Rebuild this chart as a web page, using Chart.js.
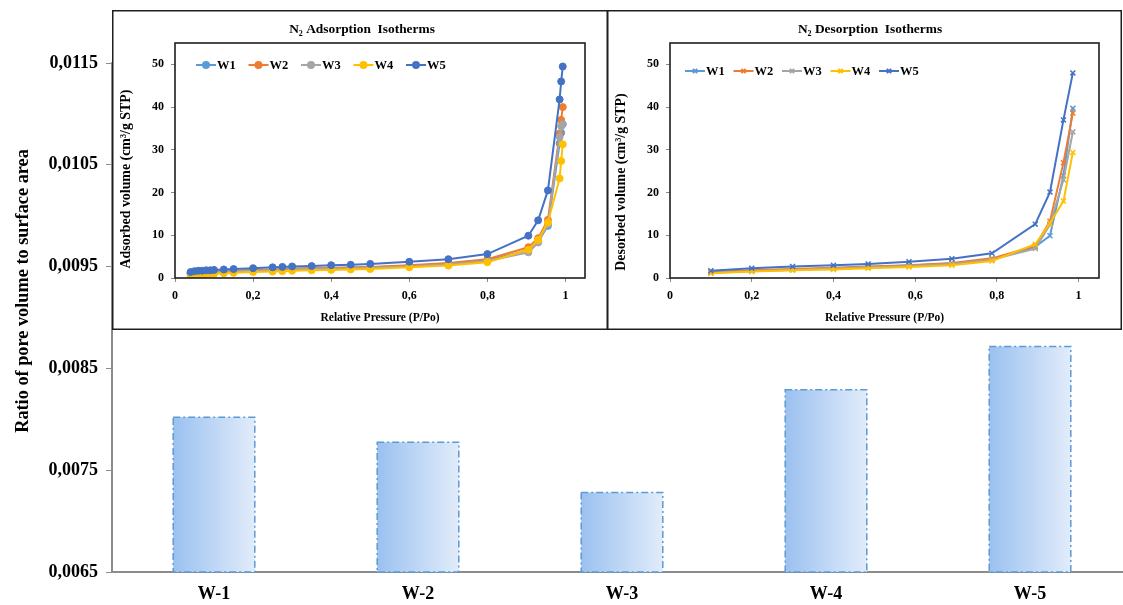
<!DOCTYPE html>
<html>
<head>
<meta charset="utf-8">
<script src="https://cdn.jsdelivr.net/npm/chart.js@4.4.0/dist/chart.umd.min.js"></script>
<style>
  body { margin: 0; width: 1123px; height: 605px; overflow: hidden; background: #fff; position: relative; }
  canvas { position: absolute; }
</style>
</head>
<body>
<canvas id="main" width="1134" height="605" style="left:0;top:0"></canvas>
<canvas id="ads" width="496" height="320" style="left:112px;top:10px"></canvas>
<canvas id="des" width="515" height="320" style="left:607px;top:10px"></canvas>
<script>
// main bar chart
var samples = ['W-1', 'W-2', 'W-3', 'W-4', 'W-5'];
var poreRatio = [0.00802, 0.007775, 0.00728, 0.00829, 0.008715];

// N2 adsorption isotherms
var adsPressure = [0.04, 0.05, 0.06, 0.07, 0.08, 0.09, 0.1, 0.125, 0.15, 0.2, 0.25, 0.275, 0.3, 0.35, 0.4, 0.45, 0.5, 0.6, 0.7, 0.8, 0.905, 0.93, 0.955, 0.985, 0.989, 0.993];
var adsW1 = [1.1, 1.2, 1.2, 1.3, 1.3, 1.4, 1.4, 1.5, 1.6, 1.8, 1.9, 2.0, 2.1, 2.2, 2.3, 2.4, 2.5, 2.8, 3.3, 4.1, 6.5, 8.6, 12.2, 31.5, 34, 36];
var adsW2 = [1.2, 1.3, 1.3, 1.4, 1.4, 1.5, 1.5, 1.6, 1.7, 1.9, 2.0, 2.1, 2.2, 2.3, 2.4, 2.5, 2.6, 3.0, 3.5, 4.4, 7.2, 9.3, 13.6, 33.8, 37, 40];
var adsW3 = [1.0, 1.1, 1.1, 1.2, 1.2, 1.3, 1.3, 1.4, 1.5, 1.7, 1.8, 1.9, 2.0, 2.1, 2.2, 2.3, 2.4, 2.7, 3.2, 4.0, 6.0, 8.3, 12.6, 33, 35.5, 36];
var adsW4 = [0.5, 0.6, 0.7, 0.8, 0.9, 1.0, 1.0, 1.1, 1.2, 1.4, 1.5, 1.6, 1.7, 1.8, 1.9, 2.0, 2.1, 2.5, 2.9, 3.7, 6.6, 8.9, 13.0, 23.3, 27.4, 31.3];
var adsW5 = [1.4, 1.6, 1.7, 1.7, 1.8, 1.8, 1.9, 2.0, 2.1, 2.3, 2.5, 2.6, 2.7, 2.8, 3.0, 3.1, 3.3, 3.8, 4.4, 5.6, 9.9, 13.5, 20.5, 41.8, 46, 49.5];

// N2 desorption isotherms
var desPressure = [0.1, 0.2, 0.3, 0.4, 0.485, 0.585, 0.69, 0.788, 0.894, 0.93, 0.963, 0.986];
var desW1 = [1.3, 1.7, 2.0, 2.3, 2.6, 2.9, 3.4, 4.4, 7.3, 9.9, 24, 39.7];
var desW2 = [1.4, 1.8, 2.1, 2.4, 2.7, 3.0, 3.5, 4.6, 7.5, 13.3, 27, 38.6];
var desW3 = [1.2, 1.6, 1.9, 2.2, 2.5, 2.8, 3.3, 4.3, 6.9, 12.5, 23, 34.2];
var desW4 = [1.1, 1.5, 1.8, 2.0, 2.3, 2.6, 3.0, 4.0, 7.9, 12.8, 18, 29.4];
var desW5 = [1.7, 2.3, 2.7, 3.0, 3.3, 3.8, 4.5, 5.8, 12.6, 20.1, 37, 48];

var seriesNames = ['W1', 'W2', 'W3', 'W4', 'W5'];
var seriesColors = ['#5b9bd5', '#ed7d31', '#a5a5a5', '#ffc000', '#4472c4'];

var serif = '"Liberation Serif", "Times New Roman", serif';
Chart.defaults.font.family = serif;
Chart.defaults.color = '#000';

function comma(v, d) {
  return String(+v.toFixed(d)).replace('.', ',');
}

// rotated y title, placed by hand (the original is not centred on its axis)
function yTitle(text, x, y, size) {
  return {
    id: 'yTitle',
    afterDraw: function (chart) {
      var ctx = chart.ctx;
      ctx.save();
      ctx.translate(x, y);
      ctx.rotate(-Math.PI / 2);
      ctx.fillStyle = '#000';
      ctx.font = 'bold ' + size + 'px ' + serif;
      ctx.textAlign = 'center';
      ctx.textBaseline = 'middle';
      ctx.fillText(text, 0, 0);
      ctx.restore();
    }
  };
}

// ---- main bar chart ----
var dashBorder = {
  id: 'dashBorder',
  afterDatasetsDraw: function (chart) {
    var ctx = chart.ctx, bottom = chart.chartArea.bottom;
    chart.getDatasetMeta(0).data.forEach(function (b) {
      ctx.save();
      ctx.strokeStyle = '#5b9bd5';
      ctx.lineWidth = 1.5;
      ctx.setLineDash([7, 3, 2, 3]);
      ctx.strokeRect(b.x - b.width / 2, b.y, b.width, Math.min(b.base, bottom) - b.y);
      ctx.restore();
    });
  }
};

var mainChart = new Chart(document.getElementById('main'), {
  type: 'bar',
  data: {
    labels: samples,
    datasets: [{
      data: poreRatio,
      borderWidth: 0,
      barPercentage: 0.4,
      categoryPercentage: 1,
      backgroundColor: function (c) {
        var el = c.chart.getDatasetMeta(0).data[c.dataIndex];
        if (!el || el.width === undefined || isNaN(el.x)) return '#b9d3f3';
        var g = c.chart.ctx.createLinearGradient(el.x - el.width / 2, 0, el.x + el.width / 2, 0);
        g.addColorStop(0, '#9bc1f0');
        g.addColorStop(1, '#e1ecfa');
        return g;
      }
    }]
  },
  options: {
    responsive: false,
    animation: false,
    layout: { padding: { top: 63, right: 2, bottom: 0, left: 0 } },
    plugins: { legend: { display: false }, tooltip: { enabled: false } },
    scales: {
      x: {
        afterFit: function (s) { s.height = 33; },
        grid: { display: false },
        border: { color: '#8c8c8c', width: 2 },
        ticks: { font: { size: 18, weight: 'bold' }, padding: 4 }
      },
      y: {
        min: 0.0065,
        max: 0.0115,
        afterFit: function (s) { s.width = 112; },
        grid: { drawOnChartArea: false, tickLength: 6, color: '#8c8c8c' },
        border: { color: '#8c8c8c', width: 2 },
        ticks: {
          stepSize: 0.001,
          padding: 8,
          font: { size: 18, weight: 'bold' },
          callback: function (v) { return v.toFixed(4).replace('.', ','); }
        }
      }
    }
  },
  plugins: [dashBorder, yTitle('Ratio of pore volume to surface area', 23, 291, 18.3)]
});
mainChart.update('none');

// ---- inset isotherm charts ----
function insetFrame(title, titleX, legendX, legendY, legendStep) {
  return {
    id: 'insetFrame',
    afterDraw: function (chart) {
      var ctx = chart.ctx, a = chart.chartArea;
      ctx.save();
      ctx.strokeStyle = '#1e1e1e';
      ctx.lineWidth = 1.6;
      ctx.strokeRect(a.left, a.top, a.right - a.left, a.bottom - a.top);
      ctx.lineWidth = 1.5;
      ctx.strokeRect(0.75, 0.75, chart.width - 1.5, chart.height - 1.5);
      // title
      ctx.fillStyle = '#000';
      ctx.font = 'bold 13.4px ' + serif;
      ctx.textAlign = 'center';
      ctx.textBaseline = 'middle';
      ctx.fillText(title, titleX, 20);
      // legend
      ctx.textAlign = 'left';
      ctx.font = 'bold 12.5px ' + serif;
      chart.data.datasets.forEach(function (ds, i) {
        var x = legendX + i * legendStep;
        ctx.strokeStyle = ds.borderColor;
        ctx.fillStyle = ds.borderColor;
        ctx.lineWidth = 2;
        ctx.beginPath();
        ctx.moveTo(x, legendY);
        ctx.lineTo(x + 20, legendY);
        ctx.stroke();
        Chart.helpers.drawPoint(ctx, { pointStyle: ds.pointStyle, radius: 3, borderWidth: ds.pointBorderWidth }, x + 10, legendY);
        ctx.fillStyle = '#000';
        ctx.fillText(ds.label, x + 21, legendY + 1);
      });
      ctx.restore();
    }
  };
}

function insetChart(id, pressure, series, marker, plugins) {
  return new Chart(document.getElementById(id), {
    type: 'scatter',
    data: {
      datasets: series.map(function (vals, i) {
        return {
          label: seriesNames[i],
          data: pressure.map(function (p, j) { return { x: p, y: vals[j] }; }),
          showLine: true,
          borderColor: seriesColors[i],
          backgroundColor: seriesColors[i],
          borderWidth: 2,
          pointStyle: marker,
          pointRadius: 3.5,
          pointBorderWidth: marker === 'circle' ? 1 : 1.5,
          order: 5 - i
        };
      })
    },
    options: {
      responsive: false,
      animation: false,
      layout: { padding: { top: 33, right: 23, bottom: 0, left: 0 } },
      plugins: { legend: { display: false }, tooltip: { enabled: false } },
      scales: {
        x: {
          type: 'linear',
          min: 0,
          max: 1.05,
          afterFit: function (s) { s.height = 52; },
          grid: { drawOnChartArea: false, tickLength: 4, color: '#888' },
          border: { display: false },
          ticks: {
            stepSize: 0.2,
            includeBounds: false,
            padding: 7,
            font: { size: 12, weight: 'bold' },
            callback: function (v) { return comma(v, 1); }
          },
          title: {
            display: true,
            text: 'Relative Pressure (P/Po)',
            font: { size: 11.5, weight: 'bold' },
            padding: { top: 0, bottom: 5 }
          }
        },
        y: {
          min: 0,
          max: 55,
          afterFit: function (s) { s.width = 63; },
          grid: { drawOnChartArea: false, tickLength: 4, color: '#888' },
          border: { display: false },
          ticks: {
            stepSize: 10,
            includeBounds: false,
            padding: 7,
            font: { size: 12, weight: 'bold' }
          }
        }
      }
    },
    plugins: plugins
  });
}

insetChart('ads', adsPressure, [adsW1, adsW2, adsW3, adsW4, adsW5], 'circle', [
  insetFrame('N₂ Adsorption  Isotherms', 250, 84, 55, 52.5),
  yTitle('Adsorbed volume (cm³/g STP)', 14, 169, 13.9)
]);
insetChart('des', desPressure, [desW1, desW2, desW3, desW4, desW5], 'crossRot', [
  insetFrame('N₂ Desorption  Isotherms', 263, 78, 61, 48.5),
  yTitle('Desorbed volume (cm³/g STP)', 14, 172, 13.9)
]);
</script>
</body>
</html>
